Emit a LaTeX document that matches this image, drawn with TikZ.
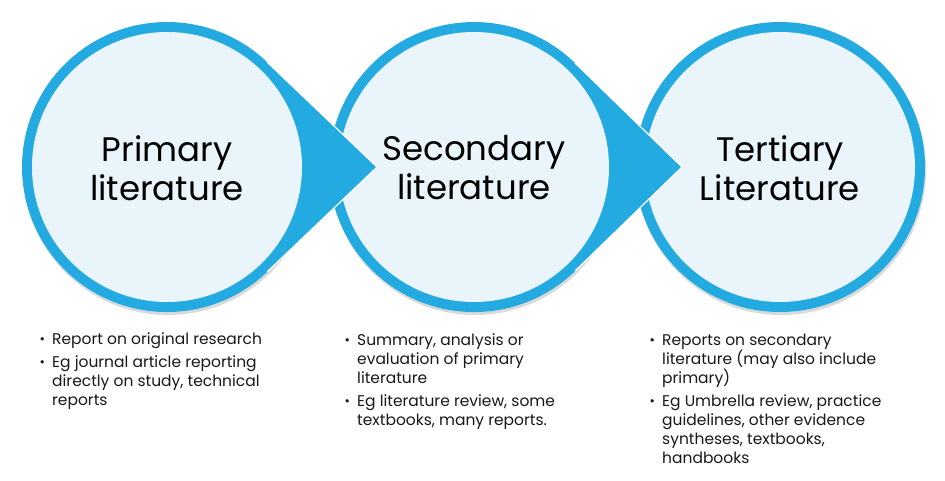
\documentclass[tikz,border=0pt]{standalone}
\IfFileExists{tgadventor.sty}{%
  \usepackage[T1]{fontenc}%
  \newcommand\gothic{\fontfamily{qag}\selectfont}}{%
  \usepackage{fontspec}%
  \newfontfamily\gothic{Poppins}}
\usepackage{graphicx}
\definecolor{ringblue}{RGB}{34,170,225}
\definecolor{innerblue}{RGB}{233,245,251}
\definecolor{notegray}{RGB}{25,25,25}
\newcommand\bul{\makebox[12pt][l]{\raisebox{2.5pt}{\scalebox{0.6}{$\bullet$}}}}

\begin{document}
\begin{tikzpicture}[x=1pt,y=1pt,
  ring/.style={fill=ringblue},
  inner/.style={fill=innerblue},
  shade/.style={fill=black,opacity=0.15},
  edge/.style={draw=white,line width=1.2pt},
  title/.style={font=\gothic\fontsize{34}{39}\selectfont,align=center,inner sep=0pt},
  notes/.style={font=\gothic\fontsize{15.5}{19}\selectfont,align=left,anchor=north west,inner sep=0pt,text=notegray}]
\fill[white] (0,0) rectangle (945,480); % background
\useasboundingbox (0,0) rectangle (945,480);

\fill[shade] (781,310) circle (145pt) ; % Tertiary
\fill[ring] (780,313) circle (145pt) ; % Tertiary
\fill[inner] (780,313) circle (135pt) ; % Tertiary

\fill[shade] (475,310) circle (145pt) ; % Secondary
\fill[ring] (682,313) -- (575.1,416.9) arc[start angle=45.8, end angle=314.2, radius=145pt] -- cycle ; % Secondary
\draw[edge] (575.1,416.9) -- (682,313) -- (575.1,209.1) ; % Secondary
\fill[inner] (474,313) circle (135pt) ; % Secondary

\fill[shade] (168,310) circle (145pt) ; % Primary
\fill[ring] (377,313) -- (267.2,417.8) arc[start angle=46.3, end angle=313.7, radius=145pt] -- cycle ; % Primary
\draw[edge] (267.2,417.8) -- (377,313) -- (267.2,208.2) ; % Primary
\fill[inner] (167,313) circle (135pt) ; % Primary

\node[title] (prim) at (167,312) {Primary\\literature};
\node[title] (sec) at (474,312) {Secondary\\literature};
\node[title] (tert) at (780,312) {Tertiary\\Literature};

\node[notes] (prim-notes) at (40,147.5) {\bul Report on original research\\[4pt]
  \bul Eg journal article reporting\\ \hspace*{12pt}directly on study, technical\\ \hspace*{12pt}reports};
\node[notes] (sec-notes) at (345,146.5) {\bul Summary, analysis or\\ \hspace*{12pt}evaluation of primary\\ \hspace*{12pt}literature\\[4pt]
  \bul Eg literature review, some\\ \hspace*{12pt}textbooks, many reports.};
\node[notes] (tert-notes) at (650,146.5) {\bul Reports on secondary\\ \hspace*{12pt}literature (may also include\\ \hspace*{12pt}primary)\\[4pt]
  \bul Eg Umbrella review, practice\\ \hspace*{12pt}guidelines, other evidence\\ \hspace*{12pt}syntheses, textbooks,\\ \hspace*{12pt}handbooks};

\end{tikzpicture}
\end{document}
